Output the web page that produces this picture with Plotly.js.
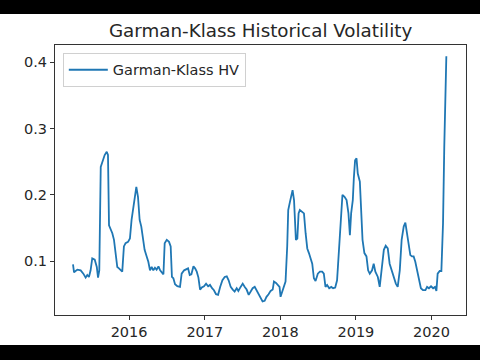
<!DOCTYPE html>
<html>
<head>
<meta charset="utf-8">
<script src="https://cdn.plot.ly/plotly-3.0.1.min.js"></script>
<style>
  html, body { margin: 0; padding: 0; background: #000; width: 480px; height: 360px; overflow: hidden; }
  #chart { position: absolute; left: 0; top: 14px; width: 480px; height: 331px; background: #fff; }
</style>
</head>
<body>
<div id="chart"></div>
<script>
// Decimal-year positions of the series samples
const years = [
  2015.260, 2015.273, 2015.317, 2015.361, 2015.396, 2015.427, 2015.449, 2015.471, 2015.493, 2015.515,
  2015.546, 2015.573, 2015.590, 2015.608, 2015.626, 2015.652, 2015.678, 2015.705, 2015.722, 2015.736,
  2015.758, 2015.780, 2015.802, 2015.824, 2015.846, 2015.868, 2015.890, 2015.912, 2015.934, 2015.956,
  2015.987, 2016.013, 2016.035, 2016.066, 2016.097, 2016.119, 2016.141, 2016.163, 2016.185, 2016.207,
  2016.233, 2016.256, 2016.278, 2016.300, 2016.322, 2016.344, 2016.366, 2016.388, 2016.410, 2016.432,
  2016.454, 2016.471, 2016.498, 2016.529, 2016.551, 2016.568, 2016.586, 2016.608, 2016.639, 2016.674,
  2016.696, 2016.727, 2016.753, 2016.780, 2016.802, 2016.824, 2016.850, 2016.872, 2016.894, 2016.916,
  2016.938, 2016.960, 2016.991, 2017.018, 2017.044, 2017.070, 2017.097, 2017.123, 2017.150, 2017.176,
  2017.203, 2017.233, 2017.264, 2017.291, 2017.317, 2017.344, 2017.370, 2017.396, 2017.423, 2017.445,
  2017.476, 2017.502, 2017.529, 2017.555, 2017.581, 2017.608, 2017.634, 2017.661, 2017.687, 2017.714,
  2017.740, 2017.767, 2017.793, 2017.819, 2017.846, 2017.872, 2017.899, 2017.916, 2017.943, 2017.969,
  2017.991, 2018.004, 2018.026, 2018.048, 2018.070, 2018.093, 2018.106, 2018.128, 2018.145, 2018.163,
  2018.181, 2018.194, 2018.207, 2018.225, 2018.242, 2018.260, 2018.291, 2018.313, 2018.335, 2018.357,
  2018.379, 2018.401, 2018.423, 2018.445, 2018.467, 2018.498, 2018.524, 2018.555, 2018.577, 2018.599,
  2018.621, 2018.648, 2018.674, 2018.700, 2018.727, 2018.753, 2018.775, 2018.797, 2018.824, 2018.850,
  2018.877, 2018.903, 2018.921, 2018.938, 2018.960, 2018.974, 2018.991, 2019.009, 2019.026, 2019.053,
  2019.070, 2019.088, 2019.115, 2019.141, 2019.163, 2019.185, 2019.216, 2019.238, 2019.260, 2019.291,
  2019.317, 2019.344, 2019.370, 2019.396, 2019.423, 2019.449, 2019.476, 2019.502, 2019.529, 2019.555,
  2019.581, 2019.608, 2019.634, 2019.656, 2019.678, 2019.700, 2019.722, 2019.744, 2019.767, 2019.789,
  2019.811, 2019.837, 2019.863, 2019.890, 2019.921, 2019.943, 2019.969, 2019.996, 2020.022, 2020.048,
  2020.066, 2020.084, 2020.110, 2020.132, 2020.154, 2020.172, 2020.198
];

// Garman-Klass historical volatility values
const hv = [
  0.095, 0.083, 0.087, 0.086, 0.081, 0.075, 0.079, 0.076, 0.086, 0.104,
  0.102, 0.091, 0.075, 0.086, 0.242, 0.252, 0.260, 0.265, 0.260, 0.154,
  0.149, 0.142, 0.132, 0.112, 0.091, 0.089, 0.087, 0.084, 0.122, 0.127,
  0.129, 0.134, 0.162, 0.187, 0.212, 0.197, 0.162, 0.152, 0.132, 0.117,
  0.107, 0.099, 0.086, 0.091, 0.086, 0.090, 0.087, 0.092, 0.086, 0.082,
  0.080, 0.127, 0.132, 0.129, 0.122, 0.076, 0.074, 0.065, 0.062, 0.061,
  0.081, 0.086, 0.087, 0.089, 0.079, 0.080, 0.092, 0.089, 0.084, 0.075,
  0.057, 0.060, 0.062, 0.066, 0.062, 0.064, 0.059, 0.056, 0.050, 0.049,
  0.061, 0.071, 0.076, 0.077, 0.071, 0.061, 0.057, 0.054, 0.059, 0.055,
  0.061, 0.066, 0.061, 0.057, 0.049, 0.054, 0.059, 0.061, 0.056, 0.049,
  0.044, 0.039, 0.040, 0.046, 0.050, 0.055, 0.057, 0.069, 0.067, 0.064,
  0.061, 0.046, 0.054, 0.059, 0.069, 0.122, 0.177, 0.189, 0.197, 0.207,
  0.192, 0.157, 0.132, 0.134, 0.172, 0.177, 0.174, 0.172, 0.142, 0.119,
  0.112, 0.102, 0.096, 0.074, 0.070, 0.081, 0.084, 0.084, 0.081, 0.061,
  0.064, 0.059, 0.061, 0.059, 0.060, 0.071, 0.112, 0.142, 0.200, 0.197,
  0.192, 0.172, 0.139, 0.172, 0.192, 0.225, 0.252, 0.255, 0.232, 0.220,
  0.172, 0.132, 0.112, 0.107, 0.086, 0.081, 0.086, 0.096, 0.084, 0.076,
  0.061, 0.089, 0.117, 0.123, 0.119, 0.096, 0.086, 0.076, 0.066, 0.061,
  0.086, 0.132, 0.152, 0.158, 0.142, 0.122, 0.109, 0.107, 0.107, 0.099,
  0.086, 0.071, 0.059, 0.056, 0.056, 0.061, 0.059, 0.062, 0.059, 0.061,
  0.055, 0.081, 0.085, 0.085, 0.157, 0.272, 0.409
];

const yearTicks = [2016, 2017, 2018, 2019, 2020];
const yTicks = [0.1, 0.2, 0.3, 0.4];

function toDate(y) {
  const yr = Math.floor(y);
  const start = Date.UTC(yr, 0, 1);
  const end = Date.UTC(yr + 1, 0, 1);
  return new Date(start + (y - yr) * (end - start)).toISOString().slice(0, 10);
}

const dates = years.map(toDate);

const font = { family: 'DejaVu Sans, sans-serif', color: '#262626' };

Plotly.newPlot('chart', [{
  x: dates,
  y: hv,
  type: 'scatter',
  mode: 'lines',
  name: 'Garman-Klass HV',
  line: { color: '#1f77b4', width: 1.8 }
}], {
  width: 480,
  height: 331,
  margin: { l: 55, r: 14, t: 31, b: 30 },
  paper_bgcolor: '#ffffff',
  plot_bgcolor: '#ffffff',
  title: {
    text: 'Garman-Klass Historical Volatility',
    font: Object.assign({ size: 18.3 }, font),
    x: 0.5429, xanchor: 'center',
    y: 0.95, yanchor: 'middle'
  },
  showlegend: true,
  legend: {
    x: 0.019, y: 0.971, xanchor: 'left', yanchor: 'top',
    itemwidth: 39,
    bgcolor: 'rgba(255,255,255,0.8)',
    bordercolor: '#d0d0d0', borderwidth: 1,
    font: Object.assign({ size: 14.5 }, font)
  },
  xaxis: {
    type: 'date',
    range: [toDate(2015.021), toDate(2020.458)],
    tickvals: yearTicks.map(y => y + '-01-01'),
    ticktext: yearTicks.map(String),
    showgrid: false, zeroline: false,
    showline: true, mirror: true, linecolor: '#333', linewidth: 1,
    ticks: 'outside', ticklen: 4, tickcolor: '#333',
    tickfont: Object.assign({ size: 14.5 }, font)
  },
  yaxis: {
    range: [0.0186, 0.426],
    tickvals: yTicks,
    ticktext: yTicks.map(v => v.toFixed(1)),
    showgrid: false, zeroline: false,
    showline: true, mirror: true, linecolor: '#333', linewidth: 1,
    ticks: 'outside', ticklen: 4, tickcolor: '#333',
    tickfont: Object.assign({ size: 14.5 }, font)
  }
}, { staticPlot: true, displayModeBar: false });
</script>
</body>
</html>
